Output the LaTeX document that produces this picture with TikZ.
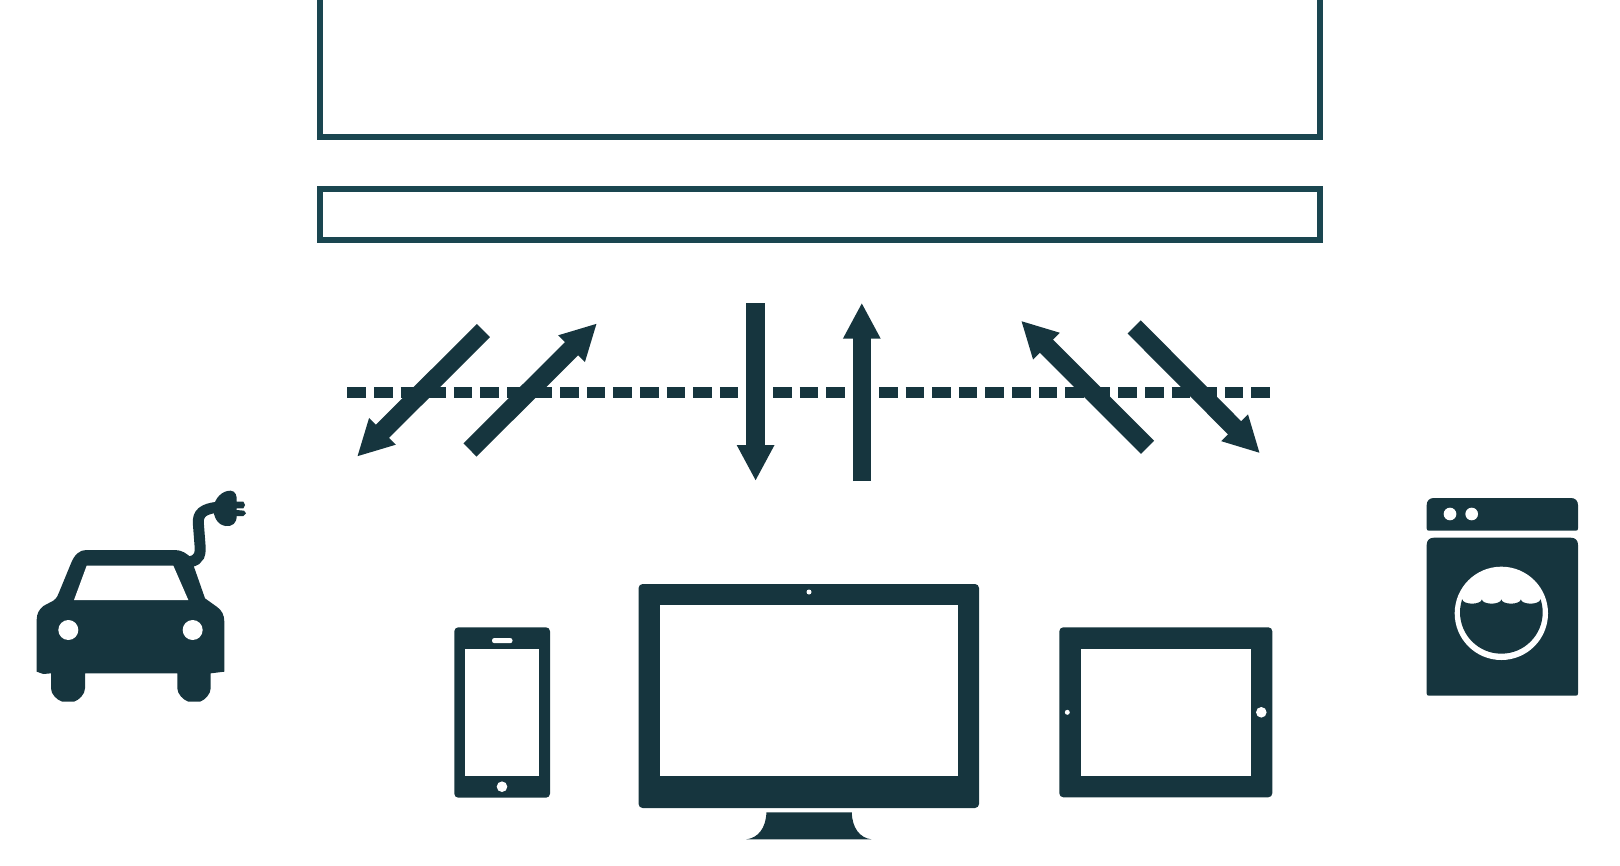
\documentclass[tikz,border=0pt]{standalone}
\usetikzlibrary{arrows.meta}
\definecolor{icon}{RGB}{22,53,62}
\definecolor{boxline}{RGB}{26,70,80}
\tikzset{
  x=0.5pt,y=-0.5pt,
  framebox/.style={draw=boxline,line width=3pt},
  dashrow/.style={draw=icon,line width=5.25pt,dash pattern=on 9.25pt off 4.05pt},
  flow/.style={draw=icon,line width=9.3pt,-{Triangle[length=18pt,width=17.5pt]}},
  solid icon/.style={fill=icon},
  hole/.style={fill=white},
  zoomed/.style={x=0.16667pt,y=-0.16667pt},
}
\begin{document}
\begin{tikzpicture}
\useasboundingbox (0,0) rectangle (1620,866);
% boxes
\draw[framebox] (320,-10) -- (320,137) -- (1320,137) -- (1320,-10);
\draw[framebox] (320,189) rectangle (1320,240);
% dashed line
\coordinate (da) at (347.4,392.3); \coordinate (db) at (738,392.3);
\coordinate (dc) at (773,392.3);   \coordinate (dd) at (845,392.3);
\coordinate (de) at (879,392.3);   \coordinate (df) at (1271,392.3);
\draw[dashrow] (da) -- (db);
\draw[dashrow] (dc) -- (dd);
\draw[dashrow] (de) -- (df);
% arrows
\coordinate (a1t) at (483.4,330.6);  \coordinate (a1h) at (357,456.7);
\coordinate (a2t) at (470,450);      \coordinate (a2h) at (597,323.3);
\coordinate (a3t) at (755.6,303.3);  \coordinate (a3h) at (755.6,481);
\coordinate (a4t) at (861.8,481);    \coordinate (a4h) at (861.8,302.7);
\coordinate (a5t) at (1147.5,447.3); \coordinate (a5h) at (1021,320.7);
\coordinate (a6t) at (1134.2,327);   \coordinate (a6h) at (1260,453.3);
\foreach \n in {1,...,6} \draw[flow] (a\n t) -- (a\n h);
% car
\begin{scope}[shift={(0,470)},zoomed]
\fill[solid icon] (110,605) -- (110,450) .. controls (110,430) and (118,418) .. (130,408)
  -- (160,392) .. controls (170,385) and (175,375) .. (178,365)
  -- (213,280) .. controls (223,255) and (238,240) .. (258,240)
  -- (525,240) .. controls (545,240) and (560,250) .. (575,265) -- (580,285) -- (615,385)
  -- (650,410) .. controls (665,420) and (673,435) .. (673,455) -- (673,605) -- (632,610) -- (632,655)
  .. controls (632,672) and (615,690) .. (600,695) -- (565,695)
  .. controls (550,690) and (532,672) .. (532,655) -- (532,610) -- (255,610) -- (255,655)
  .. controls (255,672) and (238,690) .. (222,695) -- (187,695)
  .. controls (170,690) and (153,672) .. (153,655) -- (153,610) -- (130,612) -- cycle;
\fill[hole] (222,390) -- (260,287) -- (520,287) -- (565,390) -- cycle;
\fill[hole] (205,480) circle[radius=30];
\fill[hole] (578,480) circle[radius=30];
\draw[icon,line width=5.5pt] (570,275) .. controls (600,270) and (602,250) .. (600,225)
  -- (595,160) .. controls (593,130) and (610,117) .. (650,112);
\fill[solid icon] (640,112) .. controls (645,85) and (665,62) .. (692,62)
  .. controls (707,62) and (712,80) .. (710,95) -- (730,95) -- (735,105) -- (730,115) -- (710,115)
  -- (710,120) -- (732,122) -- (738,130) -- (730,138) -- (710,138)
  .. controls (710,160) and (697,170) .. (677,168) .. controls (655,165) and (640,145) .. (640,112) -- cycle;
\end{scope}
% washer
\begin{scope}[shift={(1400,480)},zoomed]
\fill[solid icon] (80,76) .. controls (80,62) and (88,54) .. (102,54) -- (512,54)
  .. controls (526,54) and (534,62) .. (534,76) -- (534,145) .. controls (534,150) and (532,152) .. (527,152)
  -- (87,152) .. controls (82,152) and (80,150) .. (80,145) -- cycle;
\fill[solid icon] (80,195) .. controls (80,181) and (88,173) .. (102,173) -- (512,173)
  .. controls (526,173) and (534,181) .. (534,195) -- (534,640) .. controls (534,645) and (532,647) .. (527,647)
  -- (87,647) .. controls (82,647) and (80,645) .. (80,640) -- cycle;
\fill[hole] (150,102) circle[radius=19];
\fill[hole] (215,102) circle[radius=19];
\fill[hole] (304,400) circle[radius=140];
\begin{scope}
\clip (304,397) circle[radius=124];
\fill[solid icon] (170,358) -- (187,358) arc[start angle=180,end angle=0,x radius=29.25,y radius=13]
  arc[start angle=180,end angle=0,x radius=29.25,y radius=13]
  arc[start angle=180,end angle=0,x radius=29.25,y radius=13]
  arc[start angle=180,end angle=0,x radius=29.25,y radius=13]
  -- (440,358) -- (440,540) -- (170,540) -- cycle;
\end{scope}
\end{scope}
% phone
\begin{scope}
\fill[solid icon,rounded corners=2pt] (454.3,627.3) rectangle (550,797.7);
\fill[hole] (465,649) rectangle (539.3,776);
\fill[hole,rounded corners=1.2pt] (492,638) rectangle (512.5,643.2);
\fill[hole] (502,786.7) circle[radius=5.3];
\end{scope}
% monitor
\begin{scope}
\fill[solid icon,rounded corners=2pt] (638.6,584) rectangle (979,808);
\fill[hole] (660.4,605) rectangle (958,775.7);
\fill[hole] (809,592) circle[radius=2.5];
\fill[solid icon] (766.4,812.3) -- (851.8,812.3) .. controls (852,828) and (860,838) .. (871.4,839.3)
  -- (746.4,839.3) .. controls (758,838) and (766,828) .. (766.4,812.3) -- cycle;
\end{scope}
% tablet
\begin{scope}
\fill[solid icon,rounded corners=2pt] (1059.3,627.3) rectangle (1272.3,797.3);
\fill[hole] (1080.7,649) rectangle (1251,775.7);
\fill[hole] (1067.3,712.3) circle[radius=2.5];
\fill[hole] (1261.3,712.3) circle[radius=5.3];
\end{scope}
\end{tikzpicture}
\end{document}
